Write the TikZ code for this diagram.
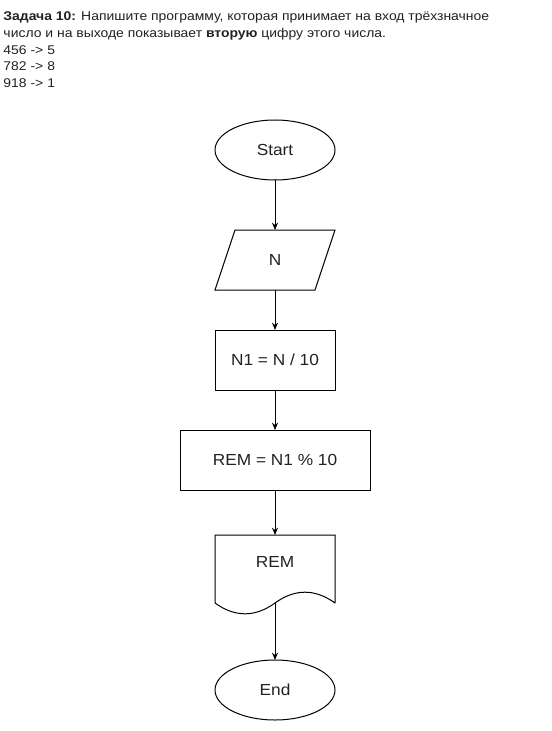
\documentclass[tikz,border=0pt]{standalone}
\usepackage{fontspec}
\setmainfont[FakeStretch=1.08]{Liberation Sans}
\newfontfamily\hdrfont[FakeStretch=1.1]{Liberation Sans}
\usetikzlibrary{shapes.geometric,arrows.meta,calc}
\definecolor{ink}{HTML}{222222}
\begin{document}
\begin{tikzpicture}[x=0.75pt,y=-0.75pt,
  line width=0.75pt,
  every node/.style={text=ink},
  hdr/.style={anchor=base west,inner sep=0pt,font=\hdrfont\fontsize{9.5}{12}\selectfont},
  term/.style={draw,ellipse,minimum width=90pt,minimum height=45pt,inner sep=0pt,outer sep=0pt,font=\fontsize{12}{14}\selectfont},
  proc/.style={draw,rectangle,minimum height=45pt,inner sep=0pt,outer sep=0pt,font=\fontsize{12}{14}\selectfont},
  body/.style={rectangle,inner sep=0pt,outer sep=0pt,font=\fontsize{12}{14}\selectfont},
  flow/.style={-{Stealth[length=5.5pt,width=4.5pt]}}
]
\useasboundingbox[fill=white] (0,0) rectangle (551,731);

% task statement
\node[hdr] (h1) at (3,21) {\textbf{Задача 10:} Напишите программу, которая принимает на вход трёхзначное};
\node[hdr] (h2) at (3,38) {число и на выходе показывает \textbf{вторую} цифру этого числа.};
\node[hdr] (h3) at (3,54.5) {456 -> 5};
\node[hdr] (h4) at (3,71) {782 -> 8};
\node[hdr] (h5) at (3,87.5) {918 -> 1};

% flowchart
\node[term] (start) at (275,150) {Start};

\node[body,minimum width=75pt,minimum height=45pt] (in) at (275,260) {N};
\draw ($(in.north west)+(10,0)$) -- ($(in.north east)+(10,0)$)
   -- ($(in.south east)+(-10,0)$) -- ($(in.south west)+(-10,0)$) -- cycle;

\node[proc,minimum width=90pt] (n1) at (275,360) {N1 = N / 10};
\node[proc,minimum width=142.5pt] (rem) at (275,460) {REM = N1 \% 10};

% document shape: straight top and sides, wavy bottom
\node[body,minimum width=90pt,minimum height=51pt,text depth=0pt] (out) at (275,569) {};
\node[body] (outlbl) at (275,562) {REM};
\draw (out.south east) -- (out.north east) -- (out.north west) -- (out.south west)
   .. controls ($(out.south)+(-40,14.4)$) and ($(out.south)+(-20,14.4)$) .. (out.south)
   .. controls ($(out.south)+(20,-14.4)$) and ($(out.south)+(40,-14.4)$) .. (out.south east);

\node[term] (end) at (275,690) {End};

\draw[flow] (start) -- (in);
\draw[flow] (in) -- (n1);
\draw[flow] (n1) -- (rem);
\draw[flow] (rem) -- (out.north);
\draw[flow] (out.south) -- (end);
\end{tikzpicture}
\end{document}
